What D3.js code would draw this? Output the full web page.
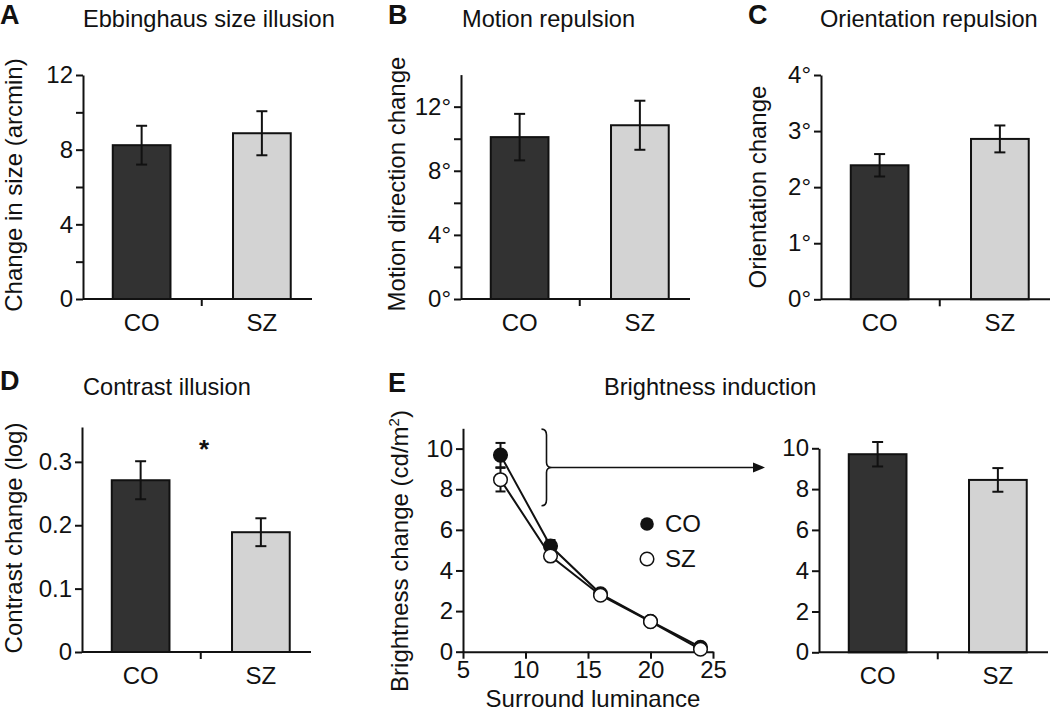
<!DOCTYPE html>
<html>
<head>
<meta charset="utf-8">
<script src="https://cdn.jsdelivr.net/npm/d3@7"></script>
<style>
  html, body { margin: 0; padding: 0; background: #fff; }
  svg { display: block; }
  text { font-family: "Liberation Sans", Arial, Helvetica, sans-serif; fill: #111; }
</style>
</head>
<body>
<svg id="chart" width="1050" height="712"></svg>
<script>
// ---------------- DATA ----------------
const groups = ["CO", "SZ"];

const ebbMean = [8.24, 8.88];
const ebbErr = [1.04, 1.18];
const ebbTicks = [0, 2, 4, 6, 8, 10, 12];
const ebbLabels = ["0", "", "4", "", "8", "", "12"];

const motionMean = [10.1, 10.84];
const motionErr = [1.45, 1.53];
const motionTicks = [0, 2, 4, 6, 8, 10, 12];
const motionLabels = ["0°", "", "4°", "", "8°", "", "12°"];

const orientMean = [2.39, 2.86];
const orientErr = [0.2, 0.24];
const orientTicks = [0, 1, 2, 3, 4];
const orientLabels = ["0°", "1°", "2°", "3°", "4°"];

const contrastMean = [0.271, 0.189];
const contrastErr = [0.030, 0.022];
const contrastTicks = [0, 0.1, 0.2, 0.3];
const contrastLabels = ["0", "0.1", "0.2", "0.3"];

const brightMean = [9.71, 8.45];
const brightErr = [0.6, 0.58];
const brightTicks = [0, 2, 4, 6, 8, 10];
const brightLabels = ["0", "2", "4", "6", "8", "10"];

const surroundLum = [8, 12, 16, 20, 24];
const brightCO = [9.68, 5.2, 2.85, 1.5, 0.22];
const brightCOErr = [0.6, 0.3, 0.18, 0.12, 0.1];
const brightSZ = [8.47, 4.71, 2.78, 1.48, 0.12];
const brightSZErr = [0.58, 0.2, 0.15, 0.12, 0.1];
const lumTicks = [5, 10, 15, 20, 25];
const lineYTicks = [0, 2, 4, 6, 8, 10];

// ---------------- STYLE ----------------
const barFill = { CO: "#323232", SZ: "#d3d3d3" };
const FONT_TICK = 24, FONT_TITLE = 23.6, FONT_YLAB = 24, FONT_CAT = 24, FONT_LETTER = 27;

const svg = d3.select("#chart");

function styleAxis(g) {
  g.attr("font-size", FONT_TICK)
   .attr("font-family", '"Liberation Sans", Arial, Helvetica, sans-serif');
  g.selectAll("path.domain").attr("stroke", "#111").attr("stroke-width", 2);
  g.selectAll(".tick line").attr("stroke", "#111").attr("stroke-width", 2);
  g.selectAll(".tick text").attr("fill", "#111");
}

function barPanel(o) {
  const g = svg.append("g");
  const y = d3.scaleLinear().domain(o.domain).range([o.y0, o.yTop]);
  const x = d3.scaleBand().domain(groups)
      .range([o.ax - 1.5, o.ax + 239])
      .paddingInner(0.52).paddingOuter(0.26);

  // y axis
  const yAxis = d3.axisLeft(y).tickValues(o.ticks)
      .tickSize(7).tickSizeOuter(0).tickPadding(3)
      .tickFormat((d, i) => o.labels[i]);
  g.append("g").attr("transform", `translate(${o.ax},0)`).call(yAxis).call(styleAxis);

  // bars
  groups.forEach((k, i) => {
    g.append("rect")
      .attr("x", x(k)).attr("width", x.bandwidth())
      .attr("y", y(o.mean[i])).attr("height", y(0) - y(o.mean[i]))
      .attr("fill", barFill[k]).attr("stroke", "#111").attr("stroke-width", 2);
    const cx = x(k) + x.bandwidth() / 2;
    const lo = y(o.mean[i] - o.err[i]), hi = y(o.mean[i] + o.err[i]);
    g.append("line").attr("x1", cx).attr("x2", cx).attr("y1", lo).attr("y2", hi)
      .attr("stroke", "#111").attr("stroke-width", 2);
    [lo, hi].forEach(v => g.append("line").attr("x1", cx - 5.5).attr("x2", cx + 5.5)
      .attr("y1", v).attr("y2", v).attr("stroke", "#111").attr("stroke-width", 2));
    g.append("text").attr("x", cx).attr("y", y(0) + 32)
      .attr("text-anchor", "middle").attr("font-size", FONT_CAT).text(k);
  });

  // x axis line + middle tick
  const mid = (x("CO") + x("SZ") + x.bandwidth()) / 2;
  g.append("line").attr("x1", o.ax).attr("x2", o.ax + 229)
    .attr("y1", y(0)).attr("y2", y(0)).attr("stroke", "#111").attr("stroke-width", 2);
  g.append("line").attr("x1", mid).attr("x2", mid)
    .attr("y1", y(0)).attr("y2", y(0) + 7).attr("stroke", "#111").attr("stroke-width", 2);

  // y label
  if (o.ylabel) {
    g.append("text")
      .attr("transform", `translate(${o.ylx},${o.yly}) rotate(-90)`)
      .attr("text-anchor", "middle").attr("font-size", FONT_YLAB).text(o.ylabel);
  }
  return { g, x, y };
}

function title(x, y, t) {
  svg.append("text").attr("x", x).attr("y", y).attr("font-size", FONT_TITLE).text(t);
}
function letter(x, y, t) {
  svg.append("text").attr("x", x).attr("y", y).attr("font-size", FONT_LETTER)
    .attr("font-weight", "bold").text(t);
}

// ---------------- PANEL A ----------------
letter(0, 24, "A");
title(83, 27, "Ebbinghaus size illusion");
barPanel({ ax: 83, y0: 299, yTop: 75, domain: [0, 12], ticks: ebbTicks, labels: ebbLabels,
  mean: ebbMean, err: ebbErr, ylabel: "Change in size (arcmin)", ylx: 22, yly: 185 });

// ---------------- PANEL B ----------------
letter(388, 24, "B");
title(462, 27, "Motion repulsion");
barPanel({ ax: 461, y0: 299, yTop: 74.6, domain: [0, 14], ticks: motionTicks, labels: motionLabels,
  mean: motionMean, err: motionErr, ylabel: "Motion direction change", ylx: 405, yly: 184 });

// ---------------- PANEL C ----------------
letter(748, 24, "C");
title(820, 27, "Orientation repulsion");
barPanel({ ax: 821, y0: 299.3, yTop: 75, domain: [0, 4], ticks: orientTicks, labels: orientLabels,
  mean: orientMean, err: orientErr, ylabel: "Orientation change", ylx: 766, yly: 187 });

// ---------------- PANEL D ----------------
letter(0, 390, "D");
title(83, 395, "Contrast illusion");
const pD = barPanel({ ax: 82, y0: 652, yTop: 427, domain: [0, 0.355], ticks: contrastTicks, labels: contrastLabels,
  mean: contrastMean, err: contrastErr, ylabel: "Contrast change (log)", ylx: 22, yly: 538 });
pD.g.append("text").attr("x", 204).attr("y", 458).attr("text-anchor", "middle")
  .attr("font-size", 26).attr("font-weight", "bold").text("*");

// ---------------- PANEL E ----------------
letter(388, 392, "E");
title(604, 395, "Brightness induction");

// E: line chart
const gE = svg.append("g");
const xL = d3.scaleLinear().domain([5, 25]).range([463, 713]);
const yL = d3.scaleLinear().domain([0, 11]).range([651.7, 428.3]);
gE.append("g").attr("transform", "translate(463,0)")
  .call(d3.axisLeft(yL).tickValues(lineYTicks).tickSize(7).tickSizeOuter(0).tickPadding(3))
  .call(styleAxis);
gE.append("g").attr("transform", "translate(0,651.7)")
  .call(d3.axisBottom(xL).tickValues(lumTicks).tickSize(7).tickSizeOuter(0).tickPadding(2))
  .call(styleAxis);
gE.append("text").attr("x", 593).attr("y", 707).attr("text-anchor", "middle")
  .attr("font-size", FONT_TICK).text("Surround luminance");
const yLab = gE.append("text").attr("transform", "translate(408,551) rotate(-90)")
  .attr("text-anchor", "middle").attr("font-size", FONT_YLAB);
yLab.append("tspan").text("Brightness change (cd/m");
yLab.append("tspan").attr("font-size", 15).attr("dy", -9).text("2");
yLab.append("tspan").attr("dy", 9).text(")");

const line = d3.line().x((d, i) => xL(surroundLum[i])).y(d => yL(d));
function errBars(vals, errs) {
  vals.forEach((v, i) => {
    const cx = xL(surroundLum[i]);
    const lo = yL(v - errs[i]), hi = yL(v + errs[i]);
    gE.append("line").attr("x1", cx).attr("x2", cx).attr("y1", lo).attr("y2", hi)
      .attr("stroke", "#111").attr("stroke-width", 2);
    [lo, hi].forEach(p => gE.append("line").attr("x1", cx - 5).attr("x2", cx + 5)
      .attr("y1", p).attr("y2", p).attr("stroke", "#111").attr("stroke-width", 2));
  });
}
errBars(brightCO, brightCOErr);
errBars(brightSZ, brightSZErr);
gE.append("path").datum(brightCO).attr("d", line).attr("fill", "none")
  .attr("stroke", "#111").attr("stroke-width", 2);
gE.append("path").datum(brightSZ).attr("d", line).attr("fill", "none")
  .attr("stroke", "#111").attr("stroke-width", 2);
brightCO.forEach((v, i) => gE.append("circle").attr("cx", xL(surroundLum[i])).attr("cy", yL(v))
  .attr("r", 6.8).attr("fill", "#111").attr("stroke", "#111").attr("stroke-width", 1.5));
brightSZ.forEach((v, i) => gE.append("circle").attr("cx", xL(surroundLum[i])).attr("cy", yL(v))
  .attr("r", 6.8).attr("fill", "#fff").attr("stroke", "#111").attr("stroke-width", 1.5));

// legend
gE.append("circle").attr("cx", 647).attr("cy", 524).attr("r", 6.8).attr("fill", "#111");
gE.append("text").attr("x", 665).attr("y", 532).attr("font-size", FONT_CAT).text("CO");
gE.append("circle").attr("cx", 647).attr("cy", 559).attr("r", 6.8).attr("fill", "#fff")
  .attr("stroke", "#111").attr("stroke-width", 1.5);
gE.append("text").attr("x", 665).attr("y", 567).attr("font-size", FONT_CAT).text("SZ");

// brace + arrow
const bTop = yL(10.96), bBot = yL(7.19), bMid = yL(9.07);
const bx0 = 541.5, bx1 = 546.5, bx2 = 552;
gE.append("path").attr("d",
  `M${bx0},${bTop} Q${bx1},${bTop} ${bx1},${bTop + 6} L${bx1},${bMid - 5} Q${bx1},${bMid} ${bx2},${bMid}` +
  ` Q${bx1},${bMid} ${bx1},${bMid + 5} L${bx1},${bBot - 6} Q${bx1},${bBot} ${bx0},${bBot}`)
  .attr("fill", "none").attr("stroke", "#111").attr("stroke-width", 1.6);
gE.append("line").attr("x1", bx2).attr("x2", 756).attr("y1", bMid).attr("y2", bMid)
  .attr("stroke", "#111").attr("stroke-width", 1.6);
gE.append("path").attr("d", `M765,${bMid} L753,${bMid - 5} L753,${bMid + 5} Z`).attr("fill", "#111");

// E: bar chart
barPanel({ ax: 819, y0: 652.3, yTop: 448.3, domain: [0, 10], ticks: brightTicks, labels: brightLabels,
  mean: brightMean, err: brightErr, ylabel: null });
</script>
</body>
</html>
